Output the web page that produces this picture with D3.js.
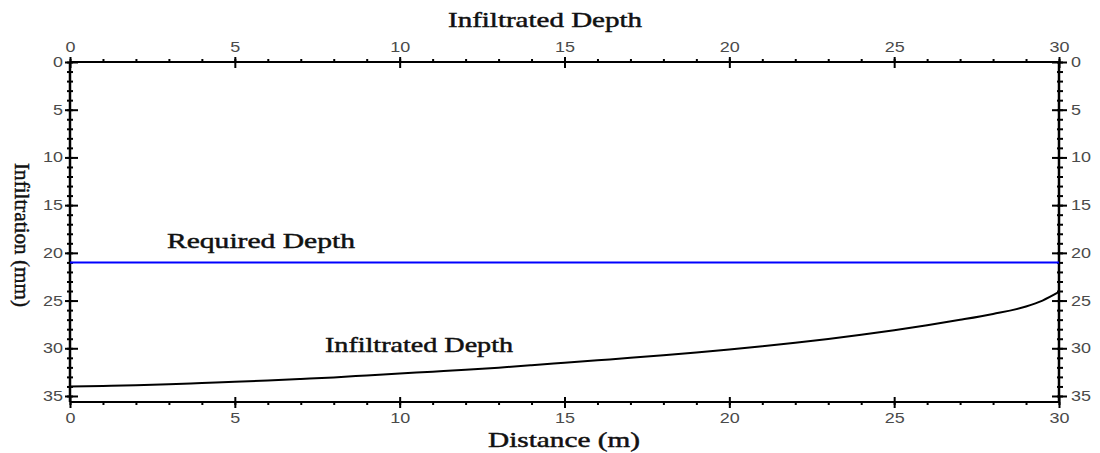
<!DOCTYPE html>
<html>
<head>
<meta charset="utf-8">
<script src="https://cdn.jsdelivr.net/npm/d3@7"></script>
<style>
  html, body { margin: 0; padding: 0; background: #fff; }
  svg { display: block; }
</style>
</head>
<body>
<svg id="chart" width="1100" height="453"></svg>
<script>
// ---- data ----
const distance = [0,1,2,3,4,5,6,7,8,9,10,11,12,13,14,15,16,17,18,19,20,21,22,23,24,25,26,27,28,29,29.5,30];
const infiltratedDepth = [34.0,33.95,33.88,33.78,33.65,33.52,33.38,33.22,33.05,32.85,32.65,32.45,32.25,32.03,31.78,31.52,31.26,31.0,30.72,30.43,30.12,29.78,29.42,29.02,28.58,28.1,27.58,27.02,26.4,25.62,25.0,24.1];
const requiredDepth = 21;
const xTicks = [0,5,10,15,20,25,30];
const yTicks = [0,5,10,15,20,25,30,35];
const xMinor = d3.range(0, 31, 1);
const yMinor = d3.range(0, 36, 1);

// ---- layout ----
const svg = d3.select("#chart");
const L = 70, R = 1059, T = 62, B = 402;
const x = d3.scaleLinear().domain([0, 30]).range([L, R]);
const y = d3.scaleLinear().domain([0, 35.63]).range([T, B]);

const tickFont = "Arial, 'Liberation Sans', sans-serif";
const serif = "'Times New Roman', 'Liberation Serif', serif";
const tickColor = "#4a4a4a";

function styleAxis(g) {
  g.select(".domain").remove();
  g.selectAll(".tick line").attr("stroke", "#000").attr("stroke-width", 2);
  g.selectAll(".tick text")
    .attr("font-family", tickFont)
    .attr("font-size", 14)
    .attr("fill", tickColor)
    .attr("textLength", function(d){ return String(d).length * 10; })
    .attr("lengthAdjust", "spacingAndGlyphs");
}

function minorAxis(axisFn, scale, vals, size, transform) {
  const g = svg.append("g").attr("transform", transform)
    .call(axisFn(scale).tickValues(vals).tickSize(size).tickFormat(""));
  g.select(".domain").remove();
  g.selectAll(".tick line").attr("stroke", "#000").attr("stroke-width", 2);
  return g;
}

minorAxis(d3.axisTop, x, xMinor, 3, `translate(0,${T})`);
minorAxis(d3.axisBottom, x, xMinor, 3, `translate(0,${B})`);
const lm = minorAxis(d3.axisLeft, y, yMinor, 3, `translate(${L},0)`);
lm.selectAll(".tick line").attr("x1", 3).attr("x2", -3);
const rm = minorAxis(d3.axisRight, y, yMinor, 4, `translate(${R},0)`);
rm.selectAll(".tick line").attr("x1", -2).attr("x2", 4);

// major axes
const gTop = svg.append("g").attr("transform", `translate(0,${T})`)
  .call(d3.axisTop(x).tickValues(xTicks).tickSize(5).tickPadding(5));
styleAxis(gTop);
gTop.selectAll(".tick line").attr("y1", 6).attr("y2", -5);

const gBot = svg.append("g").attr("transform", `translate(0,${B})`)
  .call(d3.axisBottom(x).tickValues(xTicks).tickSize(6).tickPadding(5));
styleAxis(gBot);
gBot.selectAll(".tick line").attr("y1", -5).attr("y2", 6);

const gLeft = svg.append("g").attr("transform", `translate(${L},0)`)
  .call(d3.axisLeft(y).tickValues(yTicks).tickSize(5).tickPadding(2));
styleAxis(gLeft);
gLeft.selectAll(".tick line").attr("x1", 8).attr("x2", -5);

const gRight = svg.append("g").attr("transform", `translate(${R},0)`)
  .call(d3.axisRight(y).tickValues(yTicks).tickSize(8).tickPadding(4));
styleAxis(gRight);
gRight.selectAll(".tick line").attr("x1", -7).attr("x2", 8);

// frame lines
svg.append("line").attr("x1", L).attr("x2", R).attr("y1", T).attr("y2", T).attr("stroke", "#000").attr("stroke-width", 2);
svg.append("line").attr("x1", L).attr("x2", R).attr("y1", B).attr("y2", B).attr("stroke", "#000").attr("stroke-width", 2);
svg.append("line").attr("x1", L).attr("x2", L).attr("y1", T).attr("y2", B).attr("stroke", "#000").attr("stroke-width", 2.5);
svg.append("line").attr("x1", R).attr("x2", R).attr("y1", T).attr("y2", B).attr("stroke", "#000").attr("stroke-width", 2.5);

// required depth line
svg.append("line")
  .attr("x1", x(0)).attr("x2", x(30))
  .attr("y1", y(requiredDepth)).attr("y2", y(requiredDepth))
  .attr("stroke", "#0000ff").attr("stroke-width", 2);

// infiltrated depth curve
const line = d3.line().x((d, i) => x(distance[i])).y(d => y(d)).curve(d3.curveMonotoneX);
svg.append("path")
  .datum(infiltratedDepth)
  .attr("d", line)
  .attr("fill", "none")
  .attr("stroke", "#000")
  .attr("stroke-width", 2);

// labels
function label(txt, xx, yy, len, rot) {
  const t = svg.append("text")
    .attr("font-family", serif)
    .attr("font-size", 21)
    .attr("font-weight", "normal")
    .attr("fill", "#111")
    .attr("stroke", "#111")
    .attr("stroke-width", 0.45)
    .attr("textLength", len)
    .attr("lengthAdjust", "spacingAndGlyphs")
    .text(txt);
  if (rot) {
    t.attr("text-anchor", "middle").attr("transform", `translate(${xx},${yy}) rotate(90)`);
  } else {
    t.attr("x", xx).attr("y", yy);
  }
  return t;
}
label("Infiltrated Depth", 448, 27, 194);
label("Distance (m)", 488, 447, 152);
label("Required Depth", 167, 248, 188);
label("Infiltrated Depth", 325, 352, 188);
label("Infiltration (mm)", 15, 235, 144, true);
</script>
</body>
</html>
